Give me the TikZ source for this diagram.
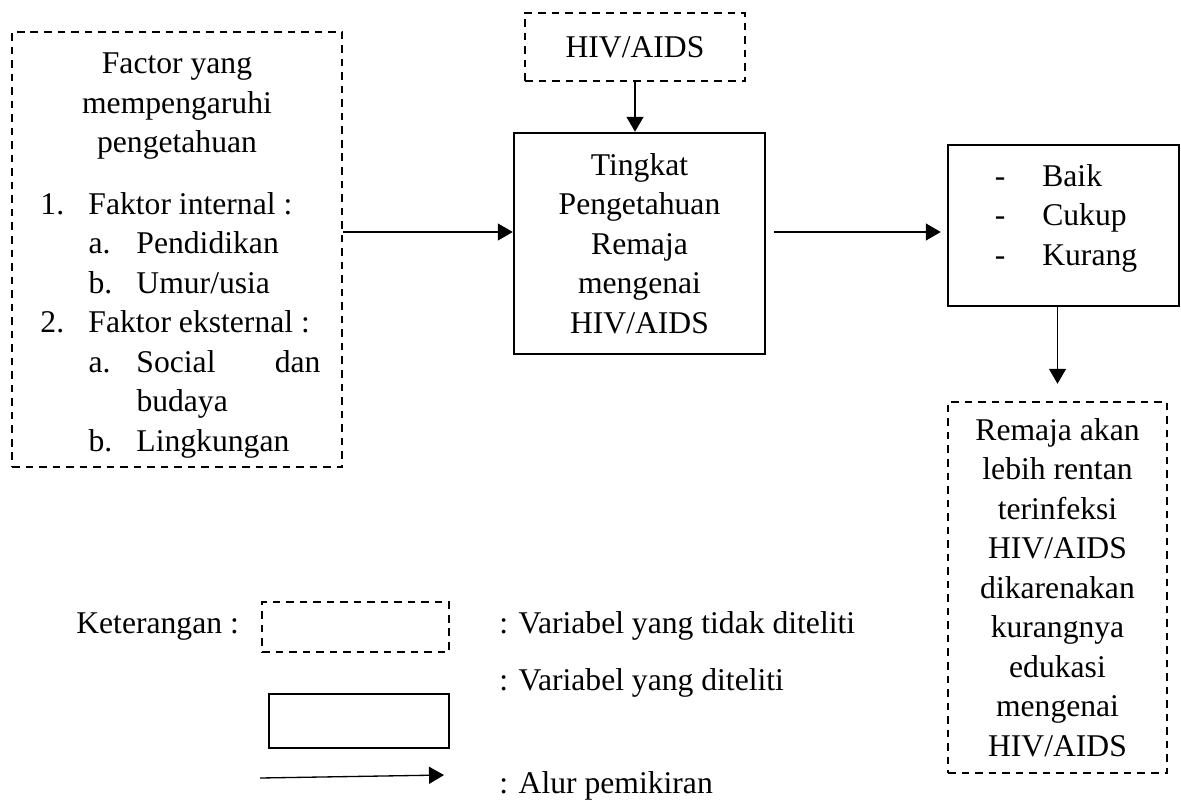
\documentclass[tikz,border=0pt]{standalone}
\usepackage{fontspec}
\setmainfont{Liberation Serif}
\usetikzlibrary{arrows.meta}

\begin{document}
\begin{tikzpicture}[
	font=\fontsize{18}{22.5}\selectfont,
	tidakditeliti/.style={draw,line width=1.4pt,dash pattern=on 4.3pt off 3.4pt},
	diteliti/.style={draw,line width=1.4pt},
	alur/.style={line width=0.75pt,-{Triangle[length=0.3cm,width=0.34cm]}},
	teks/.style={anchor=base west,inner sep=0pt}
	]
	\useasboundingbox (0,0) rectangle (23.62,15.98);
	\node[tidakditeliti,minimum width=6.6cm,minimum height=8.7cm,inner sep=0pt] (faktor) at (3.54,10.99) {\raisebox{-0.1cm}[\height][\depth]{\begin{tabular}{@{\hspace{0.14cm}}p{0.96cm}@{}p{0.96cm}@{}p{3.68cm}@{}}
		\multicolumn{3}{@{}c@{}}{Factor yang}\\
		\multicolumn{3}{@{}c@{}}{mempengaruhi}\\
		\multicolumn{3}{@{}c@{}}{pengetahuan}\\[0.44cm]
		1. & \multicolumn{2}{@{}l@{}}{Faktor internal :}\\
		& a. & Pendidikan\\
		& b. & Umur/usia\\
		2. & \multicolumn{2}{@{}l@{}}{Faktor eksternal :}\\
		& a. & Social \hfill dan\\
		& & budaya\\
		& b. & Lingkungan
	\end{tabular}}};
	\node[tidakditeliti,minimum width=4.4cm,minimum height=1.36cm] (hiv) at (12.7,15.04) {HIV/AIDS};
	\node[diteliti,minimum width=5.02cm,minimum height=4.42cm,align=center] (tingkat) at (12.79,11.11) {Tingkat\\Pengetahuan\\Remaja\\mengenai\\HIV/AIDS};
	\node[diteliti,minimum width=4.62cm,minimum height=3.22cm] (hasil) at (21.27,11.47) {\begin{tabular}{@{\hspace{0.1cm}}p{0.95cm}@{}l@{}}
		- & Baik\\
		- & Cukup\\
		- & Kurang\\[0.3cm]
	\end{tabular}};
	\node[tidakditeliti,minimum width=4.38cm,minimum height=7.42cm,align=center] (dampak) at (21.15,4.23) {Remaja akan\\lebih rentan\\terinfeksi\\HIV/AIDS\\dikarenakan\\kurangnya\\edukasi\\mengenai\\HIV/AIDS};
	\coordinate (jalur) at (0,11.34);
	\draw[alur] (faktor.east |- jalur) -- (tingkat.west |- jalur);
	\draw[alur,shorten <=0.16cm,shorten >=0.12cm] (tingkat.east |- jalur) -- (hasil.west |- jalur);
	\draw[alur] (hiv.south) -- (hiv.south |- tingkat.north);
	\draw[alur,shorten >=0.34cm] (dampak.north |- hasil.south) -- (dampak.north);
	% keterangan
	\node[teks] (ket) at (1.52,3.32) {Keterangan :};
	\node[tidakditeliti,minimum width=3.74cm,minimum height=1cm] (kotakputus) at (7.11,3.44) {};
	\node[diteliti,minimum width=3.6cm,minimum height=1.08cm] (kotak) at (7.18,1.56) {};
	\coordinate (panahA) at (5.2,0.42);
	\coordinate (panahB) at (8.88,0.48);
	\draw[alur] (panahA) -- (panahB);
	\node[teks] (ketputus) at (9.98,3.32) {: Variabel yang tidak diteliti};
	\node[teks] (ketkotak) at (9.98,2.18) {: Variabel yang diteliti};
	\node[teks] (ketalur) at (9.98,0.12) {: Alur pemikiran};
\end{tikzpicture}
\end{document}
